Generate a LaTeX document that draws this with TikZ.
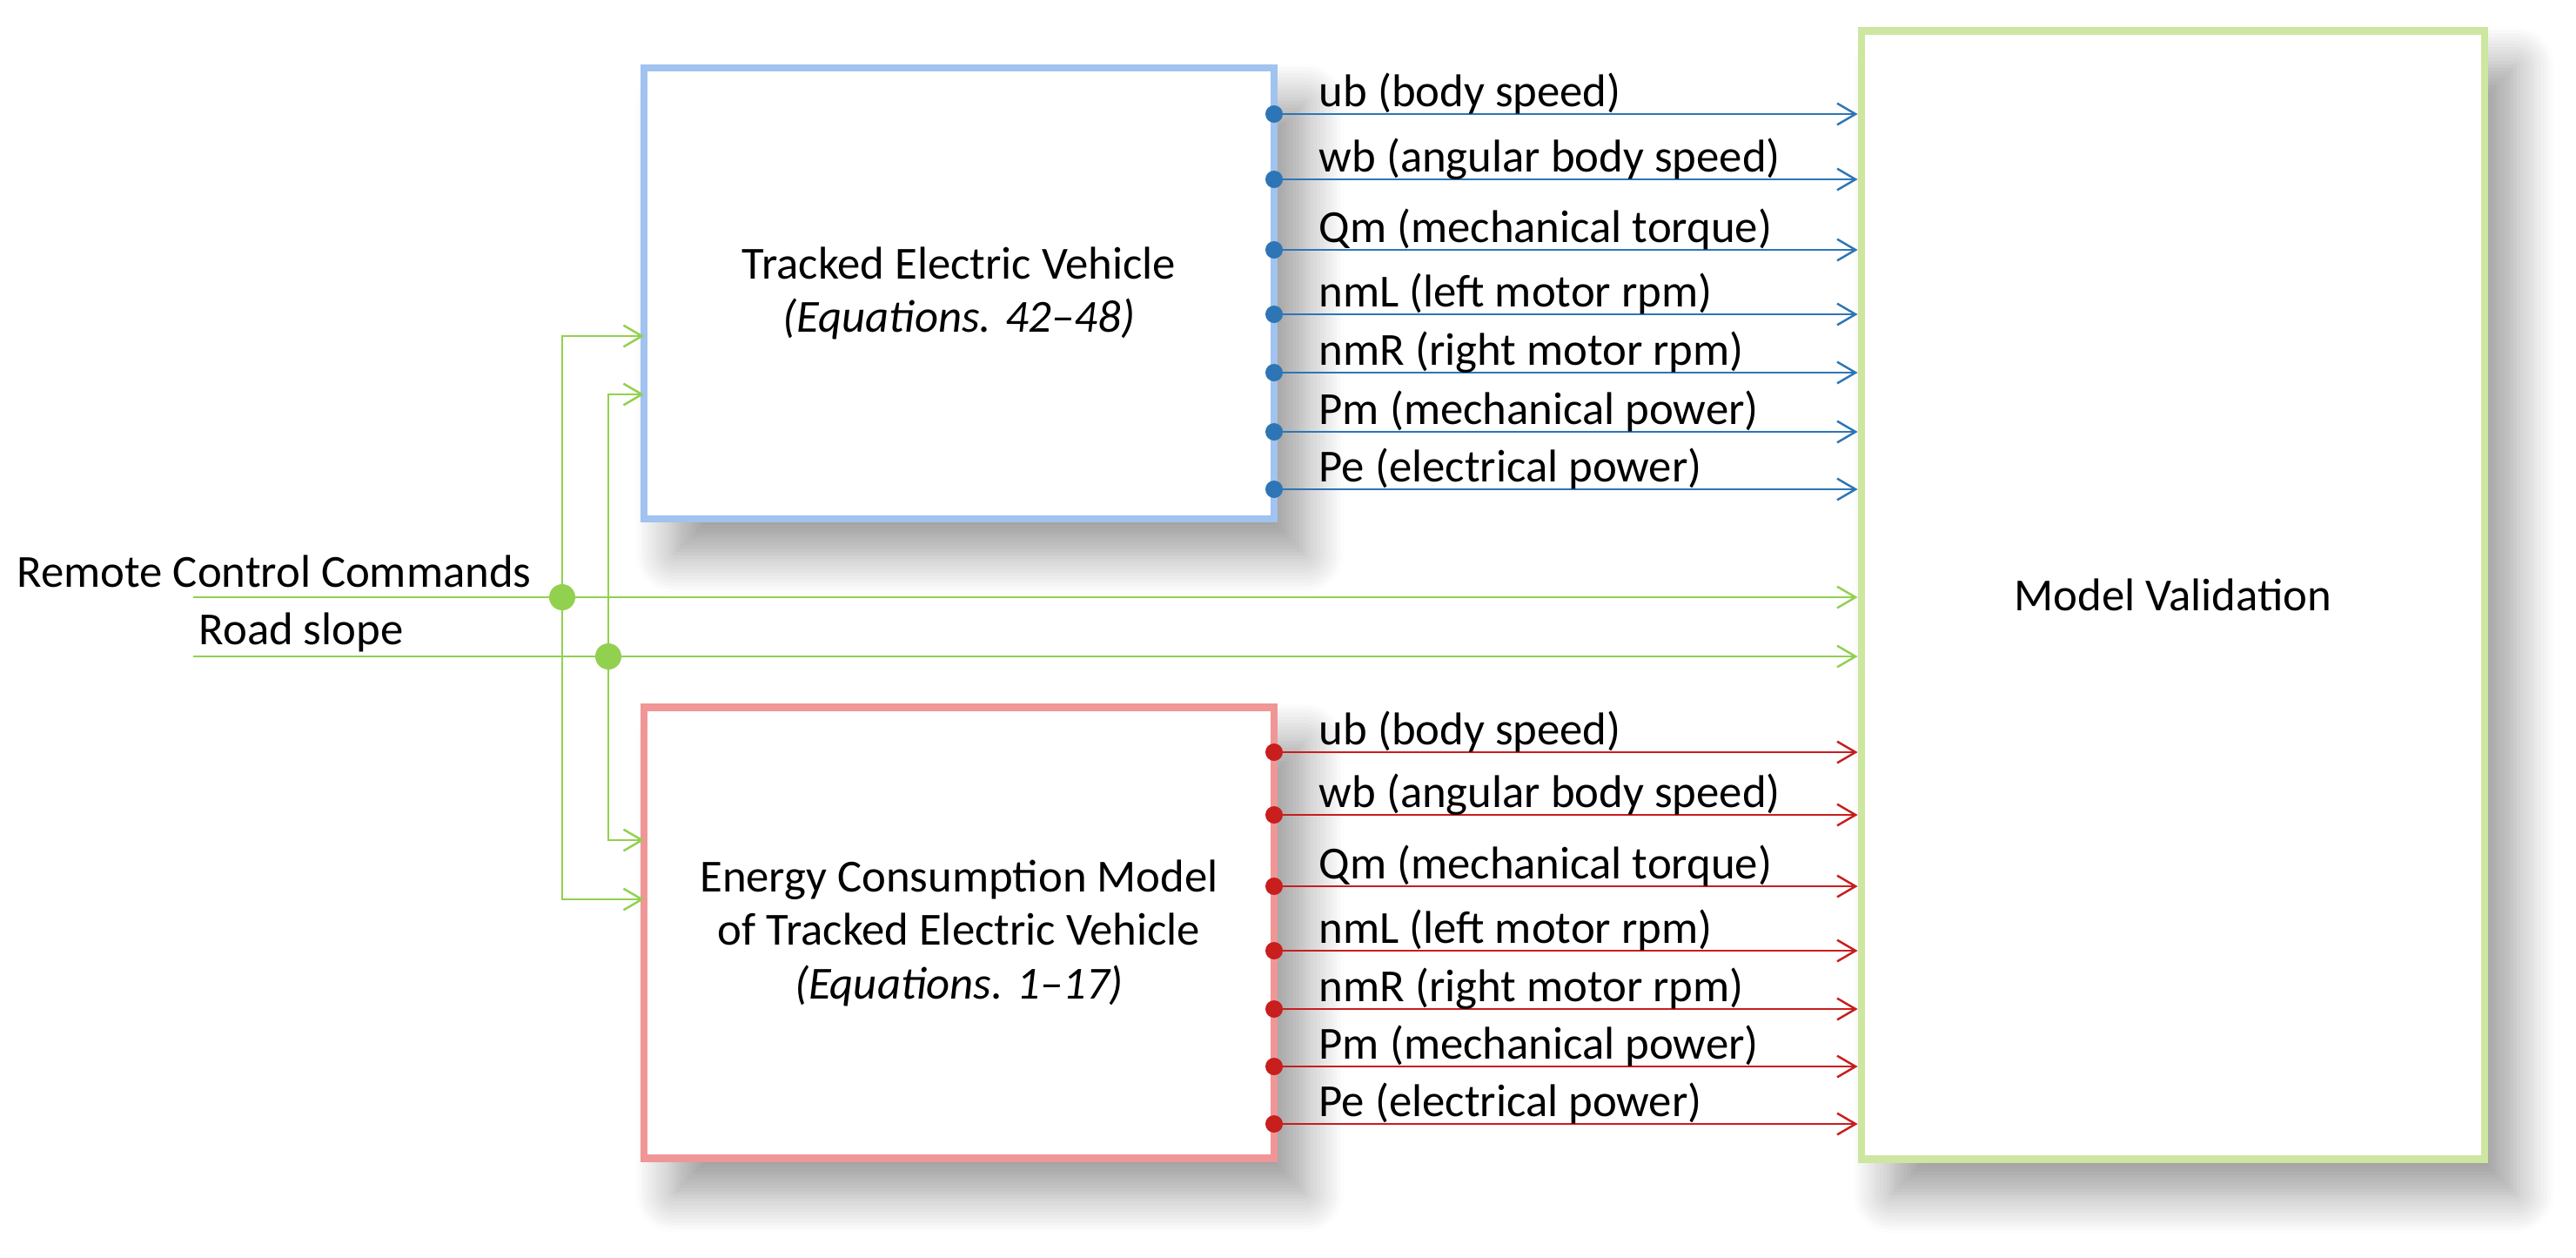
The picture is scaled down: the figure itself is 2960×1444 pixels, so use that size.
\documentclass[tikz,border=0pt]{standalone}
\usepackage{fontspec}
\setmainfont{Carlito}
\usetikzlibrary{arrows.meta,shadows.blur}
\definecolor{bl}{RGB}{46,117,182}
\definecolor{blb}{RGB}{160,195,240}
\definecolor{rd}{RGB}{200,30,30}
\definecolor{rdb}{RGB}{240,150,150}
\definecolor{gr}{RGB}{146,208,80}
\definecolor{grb}{RGB}{205,230,160}
\tikzset{
 box/.style={draw=#1,line width=2.4pt,fill=white,minimum width=7.24cm,minimum height=5.18cm,align=center,font=\fontsize{15}{17.5}\selectfont,
   blur shadow={shadow xshift=0.35cm,shadow yshift=-0.4cm,shadow blur radius=0.45cm,shadow blur steps=12,shadow opacity=40}},
 sig/.style={draw=#1,line width=0.7pt,-{Straight Barb[length=6pt,width=7pt]}},
 lab/.style={anchor=base west,font=\fontsize{15}{18}\selectfont,inner sep=0},
 port/.style={fill=#1,circle,inner sep=0,minimum size=0.2cm},
}
\begin{document}
\begin{tikzpicture}[x=0.01cm,y=-0.01cm]
\useasboundingbox (0,0) rectangle (2960,1444);
\node[box=blb] (tev) at (1102,337) {Tracked Electric Vehicle\\\textit{(Equations. 42--48)}};
\node[box=rdb] (ecm) at (1102,1071.5) {Energy Consumption Model\\of Tracked Electric Vehicle\\\textit{(Equations. 1--17)}};
\node[box=grb,minimum width=7.16cm,minimum height=12.95cm] (val) at (2497,683.5) {Model Validation};
% outputs
\foreach \y/\t [count=\i] in {131/ub (body  speed),206/wb (angular body  speed),287/Qm (mechanical torque),361/nmL (left motor  rpm),428/nmR (right motor rpm),496/Pm (mechanical power),562/Pe (electrical power)}{
  \coordinate (bo\i) at (1464,\y);
  \draw[sig=bl] (bo\i) -- (bo\i -| val.west);
  \node[port=bl] (bp\i) at (bo\i) {};
  \node[lab] (bl\i) at (1515,\y-9) {\t};
}
\foreach \y/\t [count=\i] in {864/ub (body  speed),936/wb (angular body  speed),1018/Qm (mechanical torque),1092/nmL (left motor  rpm),1159/nmR (right motor rpm),1225/Pm (mechanical power),1291/Pe (electrical power)}{
  \coordinate (ro\i) at (1464,\y);
  \draw[sig=rd] (ro\i) -- (ro\i -| val.west);
  \node[port=rd] (rp\i) at (ro\i) {};
  \node[lab] (rl\i) at (1515,\y-9) {\t};
}
% inputs
\coordinate (rcs) at (222,686);
\coordinate (rss) at (222,754);
\node[port=gr,minimum size=0.3cm] (d1) at (646,686) {};
\node[port=gr,minimum size=0.3cm] (d2) at (699,754) {};
\node[lab] (rcl) at (19,674) {Remote Control Commands};
\node[lab] (rsl) at (228,740) {Road slope};
\draw[sig=gr] (rcs) -- (rcs -| val.west);
\draw[sig=gr] (rss) -- (rss -| val.west);
\coordinate (t1) at (740,386);
\coordinate (t2) at (740,453);
\coordinate (e1) at (740,965);
\coordinate (e2) at (740,1033);
\draw[sig=gr] (d1.center) |- (t1);
\draw[sig=gr] (d1.center) |- (e2);
\draw[sig=gr] (d2.center) |- (t2);
\draw[sig=gr] (d2.center) |- (e1);
\end{tikzpicture}
\end{document}
